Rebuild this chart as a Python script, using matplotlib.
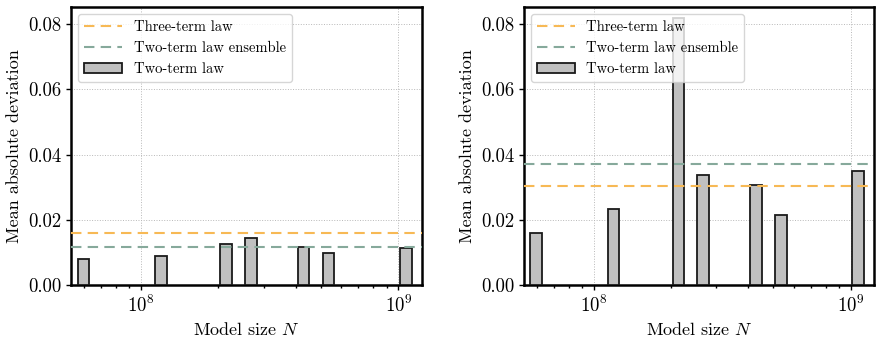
import numpy as np
import matplotlib
matplotlib.use('Agg')
import matplotlib.pyplot as plt

plt.rcParams['font.family'] = 'serif'
plt.rcParams['font.serif'] = ['cmr10']
plt.rcParams['mathtext.fontset'] = 'cm'
plt.rcParams['axes.formatter.use_mathtext'] = True
plt.rcParams['font.size'] = 13

# model sizes and mean absolute deviations
model_sizes = [5.98e7, 1.196e8, 2.14e8, 2.67e8, 4.28e8, 5.35e8, 1.07e9]
mad_left = [0.0081, 0.0090, 0.0125, 0.0144, 0.0117, 0.0097, 0.0114]
mad_right = [0.0161, 0.0234, 0.0818, 0.0336, 0.0308, 0.0215, 0.0349]
three_term = [0.0159, 0.0304]
two_term_ensemble = [0.0117, 0.0371]

orange = '#f7b955'
teal = '#86a99b'

fig = plt.figure(figsize=(8.82, 3.56), dpi=100)
ax1 = fig.add_axes([0.0805, 0.1994, 0.398, 0.781])
ax2 = fig.add_axes([0.5938, 0.1994, 0.3975, 0.781])

half = 10 ** 0.0225
for ax, mad, three, ens in [(ax1, mad_left, three_term[0], two_term_ensemble[0]),
                            (ax2, mad_right, three_term[1], two_term_ensemble[1])]:
    n = np.array(model_sizes)
    ax.bar(n / half, mad, width=n * half - n / half, align='edge',
           color='#c0c0c0', edgecolor='#1a1a1a', linewidth=1.3,
           label='Two-term law', zorder=3)
    ax.axhline(three, color=orange, linestyle='--', linewidth=1.5,
               dashes=(5, 3), label='Three-term law', zorder=4)
    ax.axhline(ens, color=teal, linestyle='--', linewidth=1.5,
               dashes=(5, 3), label='Two-term law ensemble', zorder=4)
    ax.set_xscale('log')
    ax.set_xlim(5.35e7, 1.236e9)
    ax.set_ylim(0, 0.0853)
    ax.set_yticks([0, 0.02, 0.04, 0.06, 0.08])
    ax.set_yticklabels(['0.00', '0.02', '0.04', '0.06', '0.08'])
    ax.tick_params(axis='both', which='major', labelsize=13.5)
    ax.grid(True, which='major', color='#b8b8b8', linestyle=':', linewidth=0.7, zorder=0)
    ax.set_axisbelow(True)
    for s in ax.spines.values():
        s.set_linewidth(1.8)
    ax.tick_params(which='both', direction='out', width=1.0)
    ax.set_xlabel('Model size $N$')
    ax.set_ylabel('Mean absolute deviation')
    ax.legend(loc='upper left', fontsize=10.5, framealpha=0.8,
              edgecolor='#cccccc', handlelength=2.6)

fig.savefig('out.png', dpi=100)
